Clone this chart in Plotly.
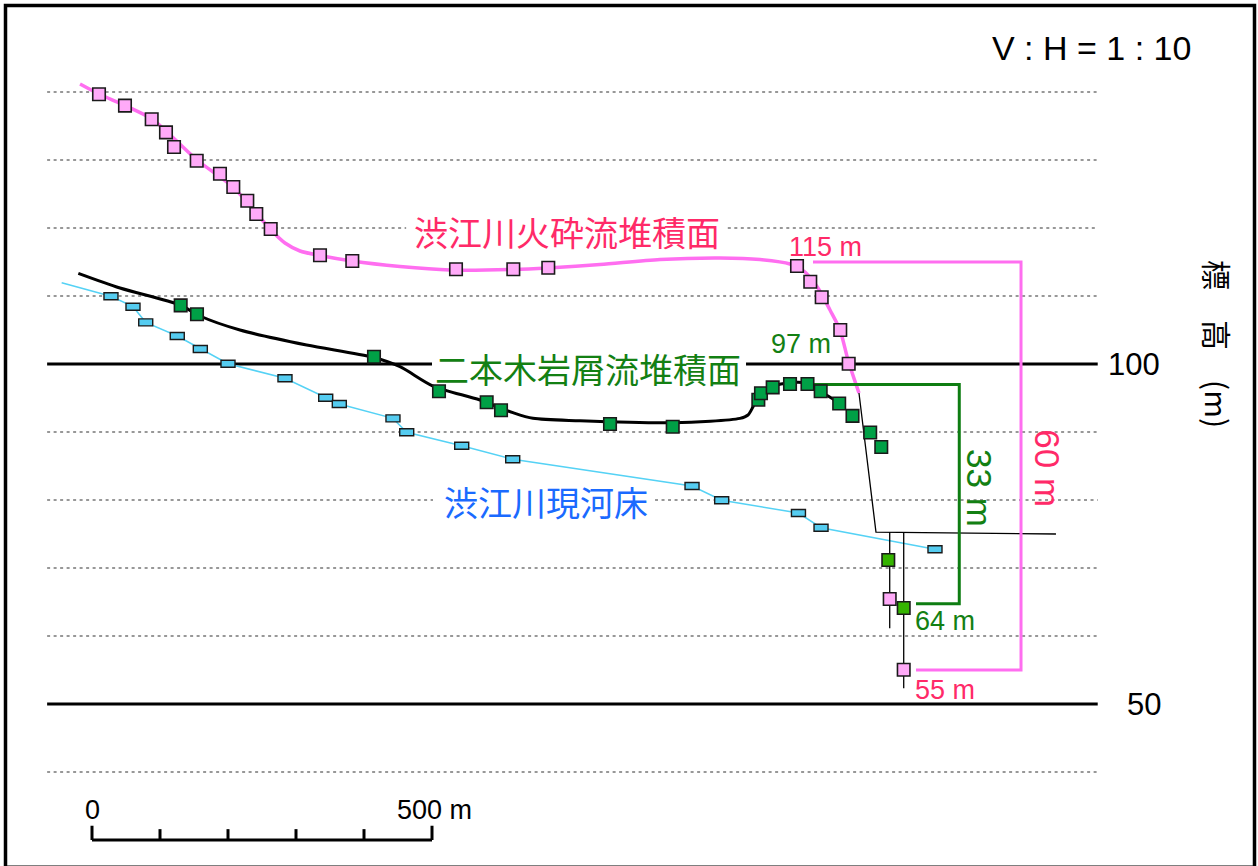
import plotly.graph_objects as go

# ---------------- data (distance in m, elevation in m) ----------------
grid_dotted = [40, 60, 70, 80, 90, 110, 120, 130, 140]
grid_solid = [50, 100]
grid_x_span = [-66, 1479]
# label gaps in the horizontal lines (level: (from, to) in m)
label_gaps = {100: (500.0, 961.8), 120: (462.0, 935.0), 80: (501.5, 828.0)}

# 渋江川火砕流堆積面 (pink)
pink_pts_x = [10.3, 48.5, 87.8, 108.8, 120.6, 154.0, 188.2, 207.8, 228.4, 241.6, 262.8,
              335.3, 382.8, 535.3, 619.6, 671.0, 1036.8, 1056.3, 1073.1, 1100.4, 1112.8,
              1173.1, 1193.7]
pink_pts_y = [139.66, 137.99, 135.99, 134.07, 131.91, 129.90, 127.99, 126.03, 124.01, 122.06, 119.85,
              115.99, 115.15, 113.93, 113.93, 114.16, 114.41, 112.10, 109.81, 105.0, 100.04,
              65.44, 55.04]
pink_line_x = [-17.6, 10.3, 48.5, 88.2, 108.8, 154.4, 207.4, 241.2, 261.8, 283.8, 305.9, 335.3,
               382.4, 452.9, 526.5, 619.1, 670.6, 747.1, 835.3, 923.5, 982.4, 1026.5, 1048.5,
               1067.6, 1085.3, 1100.0, 1111.8, 1127.9]
pink_line_y = [141.18, 139.71, 138.01, 136.03, 134.26, 130.0, 126.03, 122.21, 119.85, 117.79, 116.62,
               115.96, 115.15, 114.34, 113.82, 113.90, 114.12, 114.63, 115.37, 115.59, 115.37,
               114.71, 113.53, 111.18, 107.94, 105.0, 100.59, 95.74]

# 二本木岩屑流堆積面 (green markers, black line)
green_pts_x = [130.4, 154.4, 414.7, 510.3, 580.4, 601.5, 761.8, 854.0, 979.9, 983.8, 1001.0,
               1026.5, 1052.2, 1071.6, 1098.8, 1118.4, 1144.4, 1160.7]
green_pts_y = [108.63, 107.31, 101.07, 95.99, 94.37, 93.19, 91.18, 90.78, 94.75, 95.69, 96.57,
               97.06, 97.06, 95.99, 94.19, 92.38, 89.93, 87.79]
green_low_x = [1171.0, 1193.7]
green_low_y = [71.18, 64.12]
black_line_x = [-20.1, 41.2, 129.4, 158.8, 217.6, 315.7, 413.2, 452.9, 501.5, 570.6, 619.1, 648.5,
                717.6, 854.4, 952.9, 964.7, 972.1, 982.4, 1001.5, 1026.5, 1051.0, 1075.0, 1097.1]
black_line_y = [113.34, 111.18, 108.68, 107.06, 105.0, 102.79, 100.99, 99.60, 96.76, 94.71, 92.84,
                92.01, 91.66, 91.37, 92.01, 92.50, 93.72, 95.74, 96.76, 97.25, 97.16, 95.74, 94.41]

# 渋江川現河床 (blue)
blue_pts_x = [27.9, 60.3, 79.0, 125.4, 159.3, 200.0, 283.8, 343.7, 363.7, 442.6, 462.8, 543.7,
              618.7, 882.4, 926.0, 1038.9, 1072.1, 1239.7]
blue_pts_y = [109.96, 108.43, 106.13, 104.12, 102.21, 100.04, 97.90, 95.04, 94.12, 92.01, 89.97,
              87.99, 85.99, 82.06, 79.96, 78.09, 75.93, 72.75]
blue_line_start = [-44.6, 111.96]

# section lines (thin black)
section_x = [1127.9, 1152.9, 1417.6]
section_y = [95.74, 75.29, 75.0]
borehole_x = [1173.1, 1193.7]
borehole_top = [75.29, 75.15]
borehole_bottom = [61.13, 52.31]

# brackets
green_bracket_x = [1055.0, 1275.4, 1275.4, 1211.8]
green_bracket_y = [97.0, 97.0, 64.75, 64.75]
pink_bracket_x = [1060.3, 1366.2, 1366.2, 1211.8]
pink_bracket_y = [115.0, 115.0, 55.0, 55.0]

# scale bar
scale_ticks = [0, 100, 200, 300, 400, 500]
scale_base = 30.0
scale_end_top = 32.1
scale_mid_top = 31.6

# axis ranges (V:H = 1:10)
x_range = [-135.29, 1714.71]
y_range = [26.18, 153.53]

PINK_TXT = "#ff2a68"
GREEN_TXT = "#138013"
BLUE_TXT = "#1a6aff"
CJK = "Noto Sans CJK JP"
LAT = "Liberation Sans, Arial"

fig = go.Figure()


def hline_xy(levels):
    xs, ys = [], []
    for lv in levels:
        if lv in label_gaps:
            g0, g1 = label_gaps[lv]
            xs += [grid_x_span[0], g0, None, g1, grid_x_span[1], None]
            ys += [lv, lv, None, lv, lv, None]
        else:
            xs += [grid_x_span[0], grid_x_span[1], None]
            ys += [lv, lv, None]
    return xs, ys


gx, gy = hline_xy(grid_dotted)
fig.add_trace(go.Scatter(x=gx, y=gy, mode="lines",
                         line=dict(color="#777777", width=1.5, dash="3px,3.5px"), hoverinfo="skip"))
sx, sy = hline_xy(grid_solid)
fig.add_trace(go.Scatter(x=sx, y=sy, mode="lines", line=dict(color="black", width=3), hoverinfo="skip"))

# surfaces
fig.add_trace(go.Scatter(x=[blue_line_start[0]] + blue_pts_x, y=[blue_line_start[1]] + blue_pts_y,
                         mode="lines", line=dict(color="#55d2f5", width=1.5), hoverinfo="skip"))
fig.add_trace(go.Scatter(x=black_line_x, y=black_line_y, mode="lines",
                         line=dict(color="black", width=3, shape="spline", smoothing=0.8), hoverinfo="skip"))
fig.add_trace(go.Scatter(x=pink_line_x, y=pink_line_y, mode="lines",
                         line=dict(color="#ff6ef0", width=3.5, shape="spline", smoothing=0.8), hoverinfo="skip"))

# section lines
fig.add_trace(go.Scatter(x=section_x, y=section_y, mode="lines",
                         line=dict(color="black", width=1.3), hoverinfo="skip"))
bx, by = [], []
for xx, t, b in zip(borehole_x, borehole_top, borehole_bottom):
    bx += [xx, xx, None]
    by += [t, b, None]
fig.add_trace(go.Scatter(x=bx, y=by, mode="lines", line=dict(color="black", width=1.3), hoverinfo="skip"))

# brackets
fig.add_trace(go.Scatter(x=green_bracket_x, y=green_bracket_y, mode="lines",
                         line=dict(color="#0e7d12", width=3), hoverinfo="skip"))
fig.add_trace(go.Scatter(x=pink_bracket_x, y=pink_bracket_y, mode="lines",
                         line=dict(color="#ff6ef0", width=3), hoverinfo="skip"))

# markers
mk_line = dict(color="#1a1a1a", width=1.6)
fig.add_trace(go.Scatter(x=pink_pts_x, y=pink_pts_y, mode="markers",
                         marker=dict(symbol="square", size=12.5, color="#ffaaf8", line=mk_line), hoverinfo="skip"))
fig.add_trace(go.Scatter(x=green_pts_x, y=green_pts_y, mode="markers",
                         marker=dict(symbol="square", size=12.5, color="#00a046", line=mk_line), hoverinfo="skip"))
fig.add_trace(go.Scatter(x=green_low_x, y=green_low_y, mode="markers",
                         marker=dict(symbol="square", size=12.5, color="#35b400", line=mk_line), hoverinfo="skip"))

# scale bar
scx = [scale_ticks[0], scale_ticks[-1], None]
scy = [scale_base, scale_base, None]
for i, t in enumerate(scale_ticks):
    top = scale_end_top if i in (0, len(scale_ticks) - 1) else scale_mid_top
    scx += [t, t, None]
    scy += [scale_base, top, None]
fig.add_trace(go.Scatter(x=scx, y=scy, mode="lines", line=dict(color="black", width=3), hoverinfo="skip"))

shapes = []
# blue river-bed markers (small rectangles anchored at data points)
for xx, yy in zip(blue_pts_x, blue_pts_y):
    shapes.append(dict(type="rect", xref="x", yref="y", xsizemode="pixel", ysizemode="pixel",
                       xanchor=xx, yanchor=yy, x0=-7, x1=7, y0=-3.5, y1=3.5,
                       fillcolor="#55ccf0", line=dict(color="#1a1a1a", width=1.4), layer="above"))
# frame
shapes.append(dict(type="rect", xref="paper", yref="paper",
                   x0=5.5 / 1258, x1=1254.5 / 1258, y0=-1.2 / 866, y1=1 - 5.5 / 866,
                   line=dict(color="black", width=3.5), fillcolor="rgba(0,0,0,0)", layer="above"))

ann = []


def add(text, x, y, size, color, font=CJK, angle=0, xanchor="center"):
    ann.append(dict(text=text, x=x, y=y, xref="x", yref="y", showarrow=False, textangle=angle,
                    font=dict(family=font, size=size, color=color), xanchor=xanchor, yanchor="middle"))


add("渋江川火砕流堆積面", 697.8, 119.56, 34, PINK_TXT)
add("二本木岩屑流堆積面", 730.1, 99.3, 34, GREEN_TXT)
add("渋江川現河床", 667.6, 79.71, 34, BLUE_TXT)
add("115 m", 1079.4, 117.16, 27, PINK_TXT, font=LAT)
add("97 m", 1042.4, 102.91, 27, GREEN_TXT, font=LAT)
add("64 m", 1254.9, 62.24, 27, GREEN_TXT, font=LAT)
add("55 m", 1253.7, 51.99, 27, PINK_TXT, font=LAT)
add("33 m", 1305.9, 81.76, 35, GREEN_TXT, font=LAT, angle=90)
add("60 m", 1403.9, 84.71, 35, PINK_TXT, font=LAT, angle=90)
add("V : H = 1 : 10", 1470.1, 146.43, 34, "black", font=LAT)
add("100", 1573.5, 100, 31, "black", font=LAT, xanchor="right")
add("50", 1575.0, 50, 31, "black", font=LAT, xanchor="right")
add("標　高　(m)", 1655.9, 102.94, 30, "black", angle=90)
add("0", 0, 34.41, 27, "black", font=LAT)
add("500 m", 445.6, 34.41, 27, "black", font=LAT, xanchor="left")

fig.update_layout(
    width=1258, height=866, margin=dict(l=0, r=0, t=0, b=0),
    paper_bgcolor="white", plot_bgcolor="white", showlegend=False,
    xaxis=dict(range=x_range, visible=False, fixedrange=True),
    yaxis=dict(range=y_range, visible=False, fixedrange=True),
    shapes=shapes, annotations=ann,
)
fig.write_html("out.html", config={"displayModeBar": False},
               post_script="document.body.style.margin='0';document.body.style.overflow='hidden';")
